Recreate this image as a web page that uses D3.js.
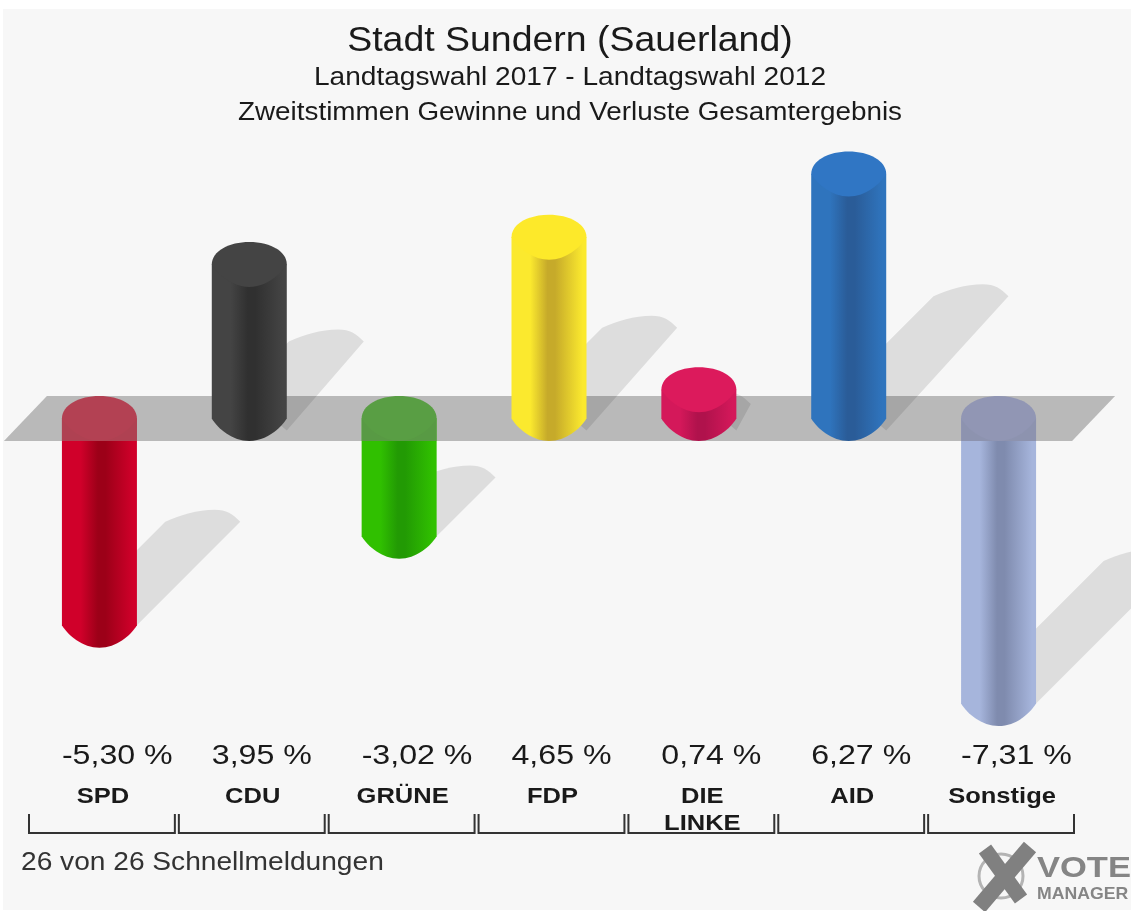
<!DOCTYPE html>
<html>
<head>
  <meta charset="utf-8">
  <title>Stadt Sundern (Sauerland)</title>
  <script src="https://d3js.org/d3.v7.min.js"></script>
  <style>
    html, body { margin: 0; padding: 0; background: #fff; }
    svg { display: block; }
    text { font-family: "Liberation Sans", Arial, sans-serif; fill: #1a1a1a; }
  </style>
</head>
<body>
  <script>

// Values
const parties = ["SPD", "CDU", "GRÜNE", "FDP", "DIE LINKE", "AID", "Sonstige"];
const changes = [-5.30, 3.95, -3.02, 4.65, 0.74, 6.27, -7.31];
const changeLabels = ["-5,30 %", "3,95 %", "-3,02 %", "4,65 %", "0,74 %", "6,27 %", "-7,31 %"];
const edgeColors = ["#d0002a", "#444444", "#30c000", "#fbe92e", "#d4185a", "#2f74bd", "#a6b5dc"];
const darkColors = ["#9c0018", "#303030", "#229a04", "#c6aa2a", "#b0124c", "#2a5c98", "#7f8bae"];
const capColors = ["#b0001c", "#444444", "#268f05", "#fde92a", "#dc1a5c", "#3076c4", "#7b83b1"];
const titleLines = ["Stadt Sundern (Sauerland)", "Landtagswahl 2017 - Landtagswahl 2012", "Zweitstimmen Gewinne und Verluste Gesamtergebnis"];
const footer = "26 von 26 Schnellmeldungen";

const width = 1131, height = 911;

const svg = d3.select("body").append("svg")
  .attr("width", width)
  .attr("height", height);

const defs = svg.append("defs");

svg.append("rect")
  .attr("x", 3).attr("y", 9)
  .attr("width", width - 3).attr("height", height - 10)
  .attr("fill", "#f7f7f7");

const root = svg.append("g").style("filter", "blur(0.7px)");

// Scales
const x = d3.scaleBand().domain(parties).range([24.5, 1073.5]);
const y = d3.scaleLinear().domain([0, 1]).range([418.5, 379.5]);
const slots = d3.scaleBand().domain(parties).range([27, 1076]);

const barW = 75, r = barW / 2, ry = 22.5;
const cx = p => x(p) + x.bandwidth() / 2;
const rows = parties.map((p, i) => ({ party: p, value: changes[i], i }));

// the original text is stretched sideways, so widen each text by a factor
function stretch(sel, factor) {
  sel.each(function() {
    const t = d3.select(this);
    t.attr("textLength", this.getComputedTextLength() * factor)
      .attr("lengthAdjust", "spacingAndGlyphs");
  });
  return sel;
}

// Floor band, a skewed strip through zero
const bandTop = y(0) - ry, bandBottom = y(0) + ry;
const floorPath = `M47,${bandTop}H1115L1072,${bandBottom}H4Z`;

root.append("path").attr("d", floorPath).attr("fill", "#b9b9b9");

// Horizontal shading of each cylinder
rows.forEach(d => {
  const g = defs.append("linearGradient").attr("id", `shade${d.i}`);
  [[0, edgeColors], [0.25, edgeColors], [0.48, darkColors], [0.58, darkColors], [0.95, edgeColors], [1, edgeColors]]
    .forEach(([o, c]) => g.append("stop").attr("offset", o).attr("stop-color", c[d.i]));
});

// Shadow thrown up and to the right from the far end of the cylinder
function shadowPath(d) {
  const c = cx(d.party), h = Math.abs(y(d.value) - y(0));
  const end = y(0) + (d.value < 0 ? h : 0);
  const baseY = end + (d.value < 0 ? 0 : 12);
  const tx = c + h / 2, ty = end - h / 2;
  const p = d3.path();
  p.moveTo(c + r - 14, end);
  p.lineTo(c + r, baseY);
  p.lineTo(tx + r, ty);
  p.bezierCurveTo(tx + r - 8, ty - 8, tx + 24, ty - 12, tx + 12, ty - 12);
  p.bezierCurveTo(tx - 6, ty - 12, tx - 22, ty - 7, tx - r, ty);
  p.lineTo(c - r, end);
  p.closePath();
  return p.toString();
}

// Cylinder outline between the end centres yA (top) and yB (bottom)
function bodyPath(c, yA, yB) {
  const p = d3.path();
  p.moveTo(c - r, yA);
  p.lineTo(c - r, yB);
  p.bezierCurveTo(c - r + 6, yB + 10, c - 17, yB + ry, c, yB + ry);
  p.bezierCurveTo(c + 17, yB + ry, c + r - 6, yB + 10, c + r, yB);
  p.lineTo(c + r, yA);
  p.closePath();
  return p.toString();
}

function capPath(c, yA) {
  const p = d3.path();
  p.moveTo(c - r, yA);
  p.bezierCurveTo(c - r, yA - ry * 0.6, c - 20, yA - ry, c, yA - ry);
  p.bezierCurveTo(c + 20, yA - ry, c + r, yA - ry * 0.6, c + r, yA);
  p.bezierCurveTo(c + r - 6, yA + 10, c + 17, yA + ry, c, yA + ry);
  p.bezierCurveTo(c - 17, yA + ry, c - r + 6, yA + 10, c - r, yA);
  p.closePath();
  return p.toString();
}

function drawBar(layer, d) {
  const yTop = Math.min(y(d.value), y(0)), yBottom = Math.max(y(d.value), y(0));
  layer.append("path")
    .attr("d", bodyPath(cx(d.party), yTop, yBottom))
    .attr("fill", `url(#shade${d.i})`);
  // inside the floor a loss bar reads as almost flat colour
  if (d.value < 0) {
    layer.append("rect")
      .attr("x", cx(d.party) - r)
      .attr("y", y(0))
      .attr("width", barW)
      .attr("height", ry)
      .attr("fill", d3.color(capColors[d.i]).darker(0.12));
  }
  layer.append("path")
    .attr("d", capPath(cx(d.party), yTop))
    .attr("fill", capColors[d.i]);
}

const losses = rows.filter(d => d.value < 0);
const gains = rows.filter(d => d.value >= 0);

// Losses hang below the floor and show through it
const lossLayer = root.append("g");
losses.forEach(d => {
  lossLayer.append("path").attr("d", shadowPath(d)).attr("fill", "#000").attr("opacity", 0.1);
});
losses.forEach(d => drawBar(lossLayer, d));

root.append("path")
  .attr("d", floorPath)
  .attr("fill", "#b9b9b9")
  .attr("opacity", 0.35);

// Gains stand on top of the floor
const gainLayer = root.append("g");
gains.forEach(d => {
  gainLayer.append("path").attr("d", shadowPath(d)).attr("fill", "#000").attr("opacity", 0.1);
});
gains.forEach(d => drawBar(gainLayer, d));

// Titles
const titleSizes = [35, 26, 25];
const titleBase = [51, 85, 120];
const titleStretch = [1.07, 1.08, 1.114];
root.selectAll(".title")
  .data(titleLines)
  .enter().append("text")
  .attr("class", "title")
  .attr("x", 570)
  .attr("y", (d, i) => titleBase[i])
  .attr("text-anchor", "middle")
  .attr("font-size", (d, i) => titleSizes[i])
  .text(d => d)
  .each(function(d, i) { stretch(d3.select(this), titleStretch[i]); });

// Percent labels start at the left edge of each cylinder
root.selectAll(".change")
  .data(rows)
  .enter().append("text")
  .attr("class", "change")
  .attr("x", d => cx(d.party) - r)
  .attr("y", 764)
  .attr("font-size", 27)
  .text(d => changeLabels[d.i])
  .call(stretch, 1.19);

// Party names, wrapped onto two lines where needed
const nameLines = rows.flatMap(d => d.party === "DIE LINKE"
  ? d.party.split(" ").map((w, n) => ({ word: w, party: d.party, n }))
  : [{ word: d.party, party: d.party, n: 0 }]);

root.selectAll(".party")
  .data(nameLines)
  .enter().append("text")
  .attr("class", "party")
  .attr("text-anchor", "middle")
  .attr("font-size", 22)
  .attr("font-weight", "bold")
  .attr("x", d => slots(d.party) + slots.bandwidth() / 2 + 1)
  .attr("y", d => 803 + d.n * 27)
  .text(d => d.word)
  .call(stretch, 1.16);

// Brackets under the names
const line = d3.line();
root.selectAll(".slot")
  .data(rows)
  .enter().append("path")
  .attr("class", "slot")
  .attr("fill", "none")
  .attr("stroke", "#333")
  .attr("stroke-width", 2)
  .attr("d", d => {
    const a = slots(d.party) + 2, b = slots(d.party) + slots.bandwidth() - 2;
    return line([[a, 814], [a, 833], [b, 833], [b, 814]]);
  });

root.append("text")
  .attr("x", 21)
  .attr("y", 870)
  .attr("font-size", 25)
  .style("fill", "#333")
  .text(footer)
  .call(stretch, 1.125);

// Vote Manager mark
const logo = root.append("g");
logo.append("circle")
  .attr("cx", 1001).attr("cy", 876).attr("r", 22)
  .attr("fill", "none").attr("stroke", "#b4b4b4").attr("stroke-width", 3);
logo.append("path")
  .attr("d", "M985,849L1021,899")
  .attr("stroke", "#808080").attr("stroke-width", 15);
logo.append("path")
  .attr("d", "M1030,847L979,907")
  .attr("stroke", "#808080").attr("stroke-width", 16);
logo.append("text")
  .attr("x", 1037).attr("y", 877)
  .attr("font-size", 30).attr("font-weight", "bold")
  .style("fill", "#858585")
  .text("VOTE")
  .call(stretch, 1.15);
logo.append("text")
  .attr("x", 1037).attr("y", 899)
  .attr("font-size", 16.5).attr("font-weight", "bold")
  .style("fill", "#858585")
  .text("MANAGER")
  .call(stretch, 1.07);

  </script>
</body>
</html>
